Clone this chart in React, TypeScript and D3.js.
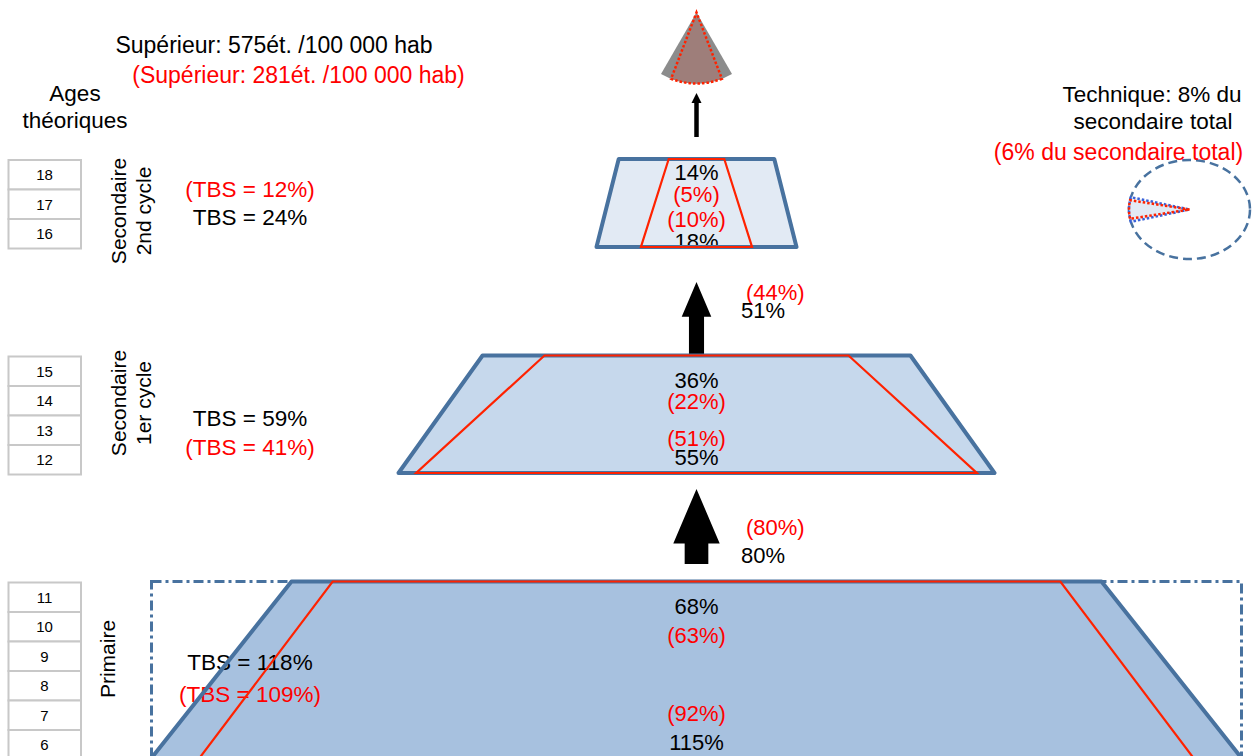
import * as d3 from 'd3';

// ---- values ----
const levelNames = [['Secondaire', '2nd cycle'], ['Secondaire', '1er cycle'], ['Primaire']];
const levelAges = [[18, 17, 16], [15, 14, 13, 12], [11, 10, 9, 8, 7, 6]];
// top edge = completion rate, bottom edge = access rate (black), red = comparison
const completionRate = [14, 36, 68];
const accessRate = [18, 55, 115];
const completionRateRef = [5, 22, 63];
const accessRateRef = [10, 51, 92];
const tbs = [24, 59, 118];
const tbsRef = [12, 41, 109];
const transitionRate = [51, 80];
const transitionRateRef = [44, 80];
const superieur = [575, 281];
const technique = [8, 6];

const W = 1256;
const H = 756;
const CX = 696.5;
const ROW_H = 29.5;
const GAP = 108;
const TOP0 = 160;
const FONT = "'Liberation Sans', Arial, Helvetica, sans-serif";
const BLUE = '#48729f';
const RED = '#ff2200';
const TXT_RED = '#ff0000';
const FILLS = ['#e2eaf4', '#c6d8ec', '#a7c1df'];

// hand placed text boxes of the original slide
const levelLabelY = [211, 403, 659];
const levelLabelX = [126, 126, 115];
const tbsDy = [37, 69.5, 87.5];
const tbsGap = [28, 29, 32];
const tbsRedFirst = [true, false, false];
const innerDy = [
  [21, 43, -20, 2],
  [32, 53, -27, -8],
  [32, 61, -37, -8],
];
const arrowBottomDy = [1.5, -17.5];
const arrowLabelDy = [
  [-57, -39],
  [-29, -1],
];

export default function App() {
  const blockTop = d3
    .cumsum([0, ...levelAges.slice(0, -1).map((a) => a.length * ROW_H + GAP)])
    .map((v) => v + TOP0);
  const blockBottom = blockTop.map((t, i) => t + levelAges[i].length * ROW_H);
  const trapTop = blockTop.map((t) => t - 1);
  const trapBottom = blockBottom.map((b) => b - 1.5);

  // rate -> half width of the pyramid (calibrated on the drawing)
  const halfW = d3
    .scaleLinear()
    .domain([0, 18, 22, 55, 68, 92, 115])
    .range([0, 100, 152, 298, 405, 497, 545]);
  const headHalf = d3.scaleLinear().domain([0, 100]).range([0, 29]);
  const headLen = d3.scaleLinear().domain([0, 100]).range([0, 68]);

  const line = d3.line();
  const trap = (i: number, top: number, bottom: number) =>
    line([
      [CX - halfW(top), trapTop[i]],
      [CX + halfW(top), trapTop[i]],
      [CX + halfW(bottom), trapBottom[i]],
      [CX - halfW(bottom), trapBottom[i]],
    ]) + 'Z';

  // arrows between levels: arrow j goes from level j+1 up to level j
  const arrows = transitionRate.map((r, j) => {
    const bottom = trapTop[j + 1] + arrowBottomDy[j];
    const tip = bottom - 75;
    const hh = headHalf(r);
    const sh = hh * 0.51;
    const hl = headLen(r);
    const d =
      line([
        [CX, tip],
        [CX + hh, tip + hl],
        [CX + sh, tip + hl],
        [CX + sh, bottom],
        [CX - sh, bottom],
        [CX - sh, tip + hl],
        [CX - hh, tip + hl],
      ]) + 'Z';
    return { d, bottom, r, ref: transitionRateRef[j] };
  });

  // superieur cone
  const coneAngle = d3.scaleSqrt().domain([0, superieur[0]]).range([0, (60 * Math.PI) / 180]);
  const coneArc = (v: number) =>
    d3.arc()({
      innerRadius: 0,
      outerRadius: 71,
      startAngle: Math.PI - coneAngle(v) / 2,
      endAngle: Math.PI + coneAngle(v) / 2,
    }) as string;

  // technique pie inside dashed ellipse
  const ell = { cx: 1189.5, cy: 209.5, rx: 60.5, ry: 49.5 };
  const techArc = (v: number) => {
    const half = ((v / 100) * 2 * Math.PI) / 2;
    return d3.arc()({
      innerRadius: 0,
      outerRadius: ell.rx,
      startAngle: -Math.PI / 2 - half,
      endAngle: -Math.PI / 2 + half,
    }) as string;
  };

  const supBottom = trapTop[0] - 22;

  return (
    <svg
      width={W}
      height={H}
      viewBox={`0 0 ${W} ${H}`}
      style={{ position: 'absolute', left: 0, top: 0, display: 'block', background: '#fff' }}
      fontFamily={FONT}
    >
      {/* frame around primary */}
      <rect
        x={CX - halfW(115)}
        y={trapTop[2]}
        width={2 * halfW(115)}
        height={300}
        fill="none"
        stroke={BLUE}
        strokeWidth={3}
        strokeDasharray="10,4,3,4"
      />

      {/* cone */}
      <g transform={`translate(${CX},12.5)`}>
        <path d={coneArc(superieur[0])} fill="#8c8c8c" />
        <path
          d={coneArc(superieur[1])}
          fill="#9e7e7a"
          stroke={RED}
          strokeWidth={2.5}
          strokeDasharray="2.5,2"
        />
      </g>
      {/* thin arrow to cone */}
      <line x1={CX} x2={CX} y1={supBottom} y2={101} stroke="#000" strokeWidth={4.5} />
      <path d={line([[CX, 93], [CX + 5, 103], [CX - 5, 103]]) + 'Z'} fill="#000" />

      {/* technique */}
      <ellipse
        cx={ell.cx}
        cy={ell.cy}
        rx={ell.rx}
        ry={ell.ry}
        fill="none"
        stroke={BLUE}
        strokeWidth={2.5}
        strokeDasharray="9,5"
      />
      <g transform={`translate(${ell.cx},${ell.cy}) scale(1,${ell.ry / ell.rx})`}>
        <path
          d={techArc(technique[0])}
          fill="#e2eaf4"
          stroke="#3a62d8"
          strokeWidth={2.5}
          strokeDasharray="2.5,2"
          vectorEffect="non-scaling-stroke"
        />
        <path
          d={techArc(technique[1])}
          fill="none"
          stroke={RED}
          strokeWidth={2.5}
          strokeDasharray="2.5,2"
          vectorEffect="non-scaling-stroke"
        />
      </g>

      {/* pyramid fills */}
      {levelAges.map((_, i) => (
        <path key={`f${i}`} d={trap(i, completionRate[i], accessRate[i])} fill={FILLS[i]} />
      ))}

      {/* arrows */}
      {arrows.map((a, j) => (
        <g key={`a${j}`}>
          <path d={a.d} fill="#000" />
          <text x={CX + 49.5} y={a.bottom + arrowLabelDy[j][0]} fontSize={22} fill={TXT_RED}>
            ({a.ref}%)
          </text>
          <text x={CX + 44.5} y={a.bottom + arrowLabelDy[j][1]} fontSize={22} fill="#000">
            {a.r}%
          </text>
        </g>
      ))}

      {/* inner rate labels */}
      {levelAges.map((_, i) => (
        <g key={`l${i}`} textAnchor="middle" fontSize={22}>
          <text x={CX} y={trapTop[i] + innerDy[i][0]} fill="#000">
            {completionRate[i]}%
          </text>
          <text x={CX} y={trapTop[i] + innerDy[i][1]} fill={TXT_RED}>
            ({completionRateRef[i]}%)
          </text>
          <text x={CX} y={trapBottom[i] + innerDy[i][2]} fill={TXT_RED}>
            ({accessRateRef[i]}%)
          </text>
          <text x={CX} y={trapBottom[i] + innerDy[i][3]} fill="#000">
            {accessRate[i]}%
          </text>
        </g>
      ))}

      {/* TBS labels */}
      {levelAges.map((_, i) => {
        const y1 = blockTop[i] + tbsDy[i];
        const y2 = y1 + tbsGap[i];
        const yRed = tbsRedFirst[i] ? y1 : y2;
        const yBlack = tbsRedFirst[i] ? y2 : y1;
        return (
          <g key={`t${i}`} textAnchor="middle" fontSize={22.5}>
            <text x={250} y={yBlack} fill="#000">
              TBS = {tbs[i]}%
            </text>
            <text x={250} y={yRed} fill={TXT_RED}>
              (TBS = {tbsRef[i]}%)
            </text>
          </g>
        );
      })}

      {/* pyramid outlines */}
      {levelAges.map((_, i) => (
        <path
          key={`b${i}`}
          d={trap(i, completionRate[i], accessRate[i])}
          fill="none"
          stroke={BLUE}
          strokeWidth={4}
          strokeLinejoin="round"
        />
      ))}
      {levelAges.map((_, i) => (
        <path
          key={`r${i}`}
          d={trap(i, completionRateRef[i], accessRateRef[i])}
          fill="none"
          stroke={RED}
          strokeWidth={2.2}
        />
      ))}

      {/* age boxes */}
      {levelAges.map((ages, i) =>
        ages.map((age, k) => {
          const y = blockTop[i] + k * ROW_H;
          return (
            <g key={`age${age}`}>
              <rect x={8.5} y={y} width={72.5} height={ROW_H} fill="#fff" stroke="#c8c8c8" strokeWidth={2} />
              <text x={44.5} y={y + ROW_H / 2 + 5.5} textAnchor="middle" fontSize={15} fill="#000">
                {age}
              </text>
            </g>
          );
        })
      )}

      {/* level names, vertical */}
      {levelNames.map((lines, i) => (
        <g key={`n${i}`} transform={`translate(${levelLabelX[i]},${levelLabelY[i]}) rotate(-90)`}>
          {lines.map((s, k) => (
            <text key={s} x={0} y={k * 24.5} textAnchor="middle" fontSize={21} fill="#000">
              {s}
            </text>
          ))}
        </g>
      ))}

      {/* header texts */}
      <g textAnchor="middle" fontSize={22.5} fill="#000">
        <text x={75} y={101}>Ages</text>
        <text x={75} y={128}>théoriques</text>
      </g>
      <text x={274} y={53} textAnchor="middle" fontSize={23} fill="#000">
        Supérieur: {superieur[0]}ét. /100 000 hab
      </text>
      <text x={298.5} y={82.5} textAnchor="middle" fontSize={23} fill={TXT_RED}>
        (Supérieur: {superieur[1]}ét. /100 000 hab)
      </text>
      <text x={1152} y={102} textAnchor="middle" fontSize={22.5} fill="#000">
        Technique: {technique[0]}% du
      </text>
      <text x={1153} y={128.5} textAnchor="middle" fontSize={22.5} fill="#000">
        secondaire total
      </text>
      <text x={1118.5} y={160} textAnchor="middle" fontSize={23} fill={TXT_RED}>
        ({technique[1]}% du secondaire total)
      </text>
    </svg>
  );
}
